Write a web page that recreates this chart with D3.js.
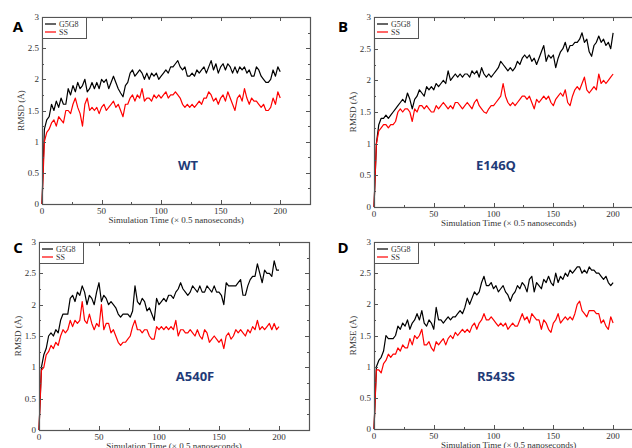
<!DOCTYPE html>
<html>
<head>
<meta charset="utf-8">
<script src="https://cdn.jsdelivr.net/npm/d3@7"></script>
<style>
  body { margin: 0; background: #fff; }
  svg { display: block; }
</style>
</head>
<body>
<div id="chart"></div>
<script>
// time points (x 0.5 ns), read every 2 steps
var time = [0,2,4,6,8,10,12,14,16,18,20,22,24,26,28,30,32,34,36,38,40,42,44,46,48,50,52,54,56,58,60,62,64,66,68,70,72,74,76,78,80,82,84,86,88,90,92,94,96,98,100,102,104,106,108,110,112,114,116,118,120,122,124,126,128,130,132,134,136,138,140,142,144,146,148,150,152,154,156,158,160,162,164,166,168,170,172,174,176,178,180,182,184,186,188,190,192,194,196,198,200];

var seriesNames = ["G5G8", "SS"];
var panelLetters = ["A", "B", "C", "D"];
var mutants = ["WT", "E146Q", "A540F", "R543S"];
var yTitles = ["RMSD (Å)", "RMSD (Å)", "RMSD (Å)", "RMSE (Å)"];
var xTitles = ["Simulation Time  (× 0.5 nanoseconds)", "Simulation Time (× 0.5 nanoseconds)",
               "Simulation Time (× 0.5 nanoseconds)", "Simulation Time (× 0.5 nanoseconds)"];
var xTicks = [0, 50, 100, 150, 200];
var yTicks = [0, 0.5, 1, 1.5, 2, 2.5, 3];

// panel A - WT
var wtG5G8 = [0,1.2,1.35,1.4,1.6,1.5,1.65,1.55,1.7,1.6,1.6,1.85,1.75,1.9,1.8,1.95,1.85,1.9,2.0,1.8,1.85,1.95,1.85,1.95,1.85,2.0,1.95,2.0,1.85,1.95,2.05,1.95,1.85,1.78,1.72,1.9,1.95,2.1,2.15,2.05,2.1,2.15,2.1,2.0,2.1,2.0,2.1,2.05,2.1,2.0,2.05,2.1,2.15,2.1,2.2,2.2,2.25,2.3,2.2,2.15,2.2,2.05,2.05,2.1,2.05,2.15,2.1,2.15,2.2,2.1,2.2,2.3,2.15,2.25,2.1,2.2,2.25,2.15,2.25,2.2,2.1,2.2,2.1,2.2,2.15,2.2,2.1,2.15,2.05,2.05,2.2,2.15,2.05,2.0,1.95,1.95,2.0,2.15,2.05,2.2,2.12];
var wtSS = [0,1.0,1.15,1.2,1.3,1.35,1.25,1.4,1.35,1.3,1.5,1.5,1.45,1.6,1.7,1.55,1.45,1.25,1.6,1.7,1.5,1.55,1.5,1.55,1.45,1.55,1.6,1.5,1.55,1.6,1.65,1.55,1.6,1.5,1.4,1.6,1.6,1.7,1.75,1.65,1.75,1.7,1.85,1.65,1.7,1.7,1.65,1.75,1.7,1.75,1.7,1.75,1.8,1.7,1.75,1.75,1.8,1.75,1.7,1.6,1.55,1.6,1.55,1.6,1.55,1.6,1.65,1.6,1.7,1.7,1.8,1.75,1.65,1.7,1.6,1.7,1.75,1.65,1.8,1.7,1.6,1.5,1.7,1.75,1.65,1.85,1.7,1.6,1.7,1.65,1.65,1.6,1.55,1.6,1.5,1.5,1.55,1.7,1.6,1.8,1.7];

// panel B - E146Q
var e146qG5G8 = [0,1.0,1.3,1.4,1.4,1.45,1.4,1.45,1.5,1.55,1.6,1.65,1.7,1.65,1.8,1.7,1.55,1.7,1.75,1.85,1.8,1.75,1.9,1.85,1.9,1.85,1.95,1.9,1.95,2.0,1.95,2.15,2.0,2.05,2.1,2.05,2.1,2.05,2.1,2.1,2.05,2.15,2.1,2.15,2.05,2.2,2.1,2.05,2.1,2.05,2.1,2.15,2.2,2.3,2.25,2.2,2.15,2.2,2.15,2.2,2.3,2.25,2.35,2.4,2.35,2.4,2.3,2.35,2.25,2.35,2.45,2.55,2.3,2.4,2.35,2.4,2.2,2.35,2.45,2.5,2.6,2.45,2.55,2.55,2.6,2.6,2.65,2.75,2.6,2.65,2.45,2.38,2.55,2.6,2.7,2.6,2.65,2.55,2.6,2.5,2.75];
var e146qSS = [0,1.0,1.2,1.25,1.3,1.3,1.25,1.3,1.3,1.35,1.5,1.55,1.5,1.55,1.55,1.5,1.35,1.55,1.5,1.6,1.6,1.55,1.6,1.55,1.5,1.5,1.6,1.55,1.6,1.65,1.6,1.55,1.6,1.55,1.65,1.65,1.6,1.55,1.6,1.65,1.6,1.55,1.65,1.7,1.6,1.55,1.5,1.48,1.55,1.6,1.6,1.65,1.7,1.75,1.95,1.75,1.65,1.6,1.65,1.6,1.65,1.7,1.75,1.75,1.7,1.75,1.65,1.55,1.7,1.65,1.7,1.75,1.7,1.75,1.65,1.6,1.7,1.75,1.8,1.75,1.85,1.65,1.6,1.75,1.85,1.9,1.85,1.95,2.05,1.85,1.8,1.85,1.9,1.85,2.1,1.95,2.0,1.95,2.0,2.05,2.1];

// panel C - A540F
var a540fG5G8 = [0,1.0,1.2,1.3,1.5,1.55,1.5,1.6,1.55,1.75,1.85,1.85,1.85,2.1,2.15,2.05,2.2,2.15,2.3,2.2,2.0,2.15,2.1,2.0,2.2,2.35,2.05,2.15,2.1,2.0,2.05,2.0,1.95,1.85,1.8,1.85,1.85,1.85,1.8,1.9,2.3,2.05,2.0,2.1,2.05,1.9,1.95,1.85,1.75,2.1,2.0,2.05,2.1,2.05,2.15,2.15,2.1,2.2,2.25,2.35,2.25,2.2,2.15,2.2,2.3,2.25,2.2,2.3,2.2,2.2,2.3,2.25,2.2,2.3,2.2,2.2,2.15,2.0,2.35,2.3,2.3,2.3,2.3,2.35,2.4,2.15,2.15,2.3,2.4,2.45,2.45,2.65,2.5,2.35,2.55,2.5,2.5,2.45,2.7,2.55,2.55];
var a540fSS = [0,0.95,1.0,1.2,1.25,1.35,1.3,1.4,1.35,1.5,1.6,1.55,1.6,1.75,1.65,1.75,1.7,1.75,2.05,1.75,1.7,1.85,1.7,1.6,1.7,1.65,2.0,1.6,1.7,1.7,1.55,1.6,1.5,1.4,1.35,1.4,1.4,1.45,1.5,1.65,1.75,1.6,1.6,1.55,1.6,1.6,1.5,1.45,1.45,1.65,1.6,1.65,1.6,1.65,1.6,1.65,1.6,1.75,1.5,1.6,1.6,1.55,1.55,1.6,1.55,1.5,1.6,1.5,1.45,1.6,1.55,1.4,1.45,1.5,1.45,1.4,1.45,1.3,1.5,1.55,1.45,1.5,1.6,1.55,1.6,1.55,1.5,1.6,1.55,1.65,1.6,1.75,1.6,1.65,1.6,1.65,1.7,1.6,1.7,1.6,1.65];

// panel D - R543S
var r543sG5G8 = [0,1.0,1.1,1.15,1.25,1.5,1.45,1.45,1.45,1.5,1.65,1.6,1.7,1.65,1.75,1.6,1.7,1.75,1.85,1.75,1.9,1.7,1.65,1.75,1.7,1.6,1.95,1.75,1.75,1.7,1.75,1.8,1.75,1.8,1.8,1.85,1.9,1.85,1.95,2.1,2.0,2.1,2.2,2.15,2.2,2.35,2.45,2.3,2.3,2.35,2.25,2.3,2.2,2.25,2.3,2.2,2.15,2.05,2.15,2.2,2.3,2.25,2.35,2.3,2.2,2.4,2.45,2.2,2.35,2.3,2.25,2.4,2.35,2.45,2.35,2.3,2.5,2.35,2.45,2.4,2.5,2.45,2.55,2.5,2.55,2.6,2.6,2.5,2.55,2.5,2.6,2.55,2.55,2.5,2.5,2.45,2.4,2.45,2.35,2.3,2.35];
var r543sSS = [0,0.95,0.95,0.9,1.05,1.1,1.2,1.15,1.2,1.2,1.3,1.25,1.35,1.3,1.3,1.45,1.35,1.5,1.45,1.5,1.6,1.35,1.35,1.4,1.3,1.25,1.4,1.35,1.4,1.45,1.35,1.45,1.5,1.45,1.55,1.5,1.55,1.6,1.55,1.6,1.55,1.65,1.7,1.6,1.7,1.75,1.85,1.75,1.75,1.8,1.75,1.7,1.65,1.7,1.65,1.7,1.6,1.65,1.7,1.65,1.65,1.75,1.85,1.75,1.8,1.7,1.85,1.8,1.75,1.75,1.6,1.75,1.7,1.6,1.55,1.7,1.75,1.85,1.7,1.75,1.8,1.75,1.8,1.75,1.85,2.0,2.05,1.9,1.85,1.8,1.9,1.9,1.9,1.85,1.85,1.7,1.75,1.65,1.6,1.8,1.7];

var panelData = [[wtG5G8, wtSS], [e146qG5G8, e146qSS], [a540fG5G8, a540fSS], [r543sG5G8, r543sSS]];

// frame positions of each panel (pixels in the page)
var frames = [
  {left: 42, top: 17, width: 268, height: 187},
  {left: 374, top: 17, width: 269, height: 190},
  {left: 39, top: 242, width: 270, height: 188},
  {left: 374, top: 242, width: 269, height: 187}
];
var letterPos = [[18, 32], [343, 32], [18, 253], [343, 253]];
var mutantPos = [[188, 170], [496, 170], [195, 381], [496, 381]];

var colors = ["#000000", "#ff0000"];
var frameColor = "#555";
var textColor = "#333";
var serif = "'Liberation Serif', 'DejaVu Serif', serif";

var svg = d3.select("#chart")
  .append("svg")
    .attr("width", 632)
    .attr("height", 448);

svg.append("rect").attr("width", 632).attr("height", 448).attr("fill", "#fff");

panelData.forEach(function(series, p) {
  var f = frames[p];
  var g = svg.append("g")
    .attr("transform", "translate(" + f.left + "," + f.top + ")");

  var x = d3.scaleLinear().domain([0, 225]).range([0, f.width]);
  var y = d3.scaleLinear().domain([0, 3]).range([f.height, 0]);

  // lines
  series.forEach(function(vals, s) {
    g.append("path")
      .datum(vals)
      .attr("fill", "none")
      .attr("stroke", colors[s])
      .attr("stroke-width", 1.2)
      .attr("stroke-linejoin", "round")
      .attr("d", d3.line()
        .x(function(d, i) { return x(time[i]) })
        .y(function(d) { return y(d) }));
  });

  // ticks inward on all four sides
  var major = 4, minor = 2;
  var xMinor = d3.range(0, 226, 25), yMinor = d3.range(0, 3.01, 0.25);
  var tk = g.append("g").attr("stroke", frameColor).attr("stroke-width", 1);
  xMinor.forEach(function(v) {
    var len = (v % 50 === 0) ? major : minor;
    var px = Math.round(x(v)) + 0.5;
    tk.append("line").attr("x1", px).attr("x2", px).attr("y1", f.height).attr("y2", f.height - len);
    tk.append("line").attr("x1", px).attr("x2", px).attr("y1", 0).attr("y2", len);
  });
  yMinor.forEach(function(v) {
    var len = (Math.abs(v * 2 - Math.round(v * 2)) < 1e-6) ? major : minor;
    var py = Math.round(y(v)) + 0.5;
    tk.append("line").attr("x1", 0).attr("x2", len).attr("y1", py).attr("y2", py);
    tk.append("line").attr("x1", f.width).attr("x2", f.width - len).attr("y1", py).attr("y2", py);
  });

  // frame
  g.append("rect")
    .attr("x", 0.5).attr("y", 0.5)
    .attr("width", f.width).attr("height", f.height)
    .attr("fill", "none")
    .attr("stroke", frameColor)
    .attr("stroke-width", 1.2);

  // tick labels
  g.selectAll(".xl").data(xTicks).enter().append("text")
    .attr("x", function(d) { return x(d) })
    .attr("y", f.height + 10)
    .attr("text-anchor", "middle")
    .attr("font-family", serif).attr("font-size", 9).attr("fill", textColor)
    .text(function(d) { return d });
  g.selectAll(".yl").data(yTicks).enter().append("text")
    .attr("x", -3)
    .attr("y", function(d) { return y(d) + 3 })
    .attr("text-anchor", "end")
    .attr("font-family", serif).attr("font-size", 9).attr("fill", textColor)
    .text(function(d) { return d });

  // axis titles
  g.append("text")
    .attr("x", x(200) / 2 + 15)
    .attr("y", f.height + 19)
    .attr("text-anchor", "middle")
    .attr("font-family", serif).attr("font-size", 9).attr("fill", textColor)
    .text(xTitles[p]);
  g.append("text")
    .attr("transform", "translate(-18," + (f.height / 2) + ") rotate(-90)")
    .attr("text-anchor", "middle")
    .attr("font-family", serif).attr("font-size", 9).attr("fill", textColor)
    .text(yTitles[p]);

  // legend
  var lg = g.append("g");
  lg.append("rect")
    .attr("x", 0.5).attr("y", 0.5).attr("width", 44).attr("height", 21)
    .attr("fill", "#fff").attr("stroke", frameColor).attr("stroke-width", 1);
  seriesNames.forEach(function(name, s) {
    lg.append("line")
      .attr("x1", 3).attr("x2", 14)
      .attr("y1", 7 + s * 8).attr("y2", 7 + s * 8)
      .attr("stroke", colors[s]).attr("stroke-width", 1.2);
    lg.append("text")
      .attr("x", 17).attr("y", 9.5 + s * 8)
      .attr("font-family", serif).attr("font-size", 8).attr("fill", textColor)
      .text(name);
  });

  // panel letter and mutant name
  svg.append("text")
    .attr("x", letterPos[p][0]).attr("y", letterPos[p][1])
    .attr("text-anchor", "middle")
    .attr("font-family", "'Open Sans', 'Noto Sans', sans-serif")
    .attr("font-weight", "bold").attr("font-size", 15).attr("fill", "#000")
    .text(panelLetters[p]);
  svg.append("text")
    .attr("x", mutantPos[p][0]).attr("y", mutantPos[p][1])
    .attr("text-anchor", "middle")
    .attr("font-family", "'Open Sans', 'Noto Sans', sans-serif")
    .attr("font-weight", "bold").attr("font-size", 13).attr("fill", "#1f3b78")
    .text(mutants[p]);
});
</script>
</body>
</html>
